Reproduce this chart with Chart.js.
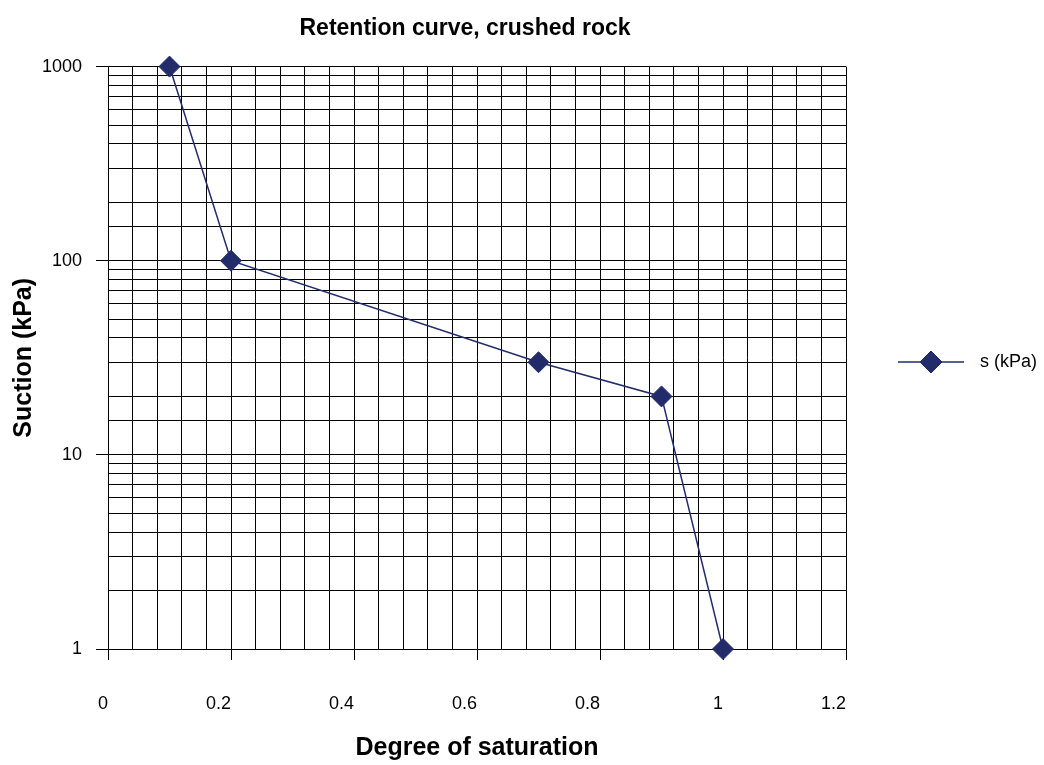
<!DOCTYPE html>
<html>
<head>
<meta charset="utf-8">
<title>Retention curve, crushed rock</title>
<script src="https://cdn.jsdelivr.net/npm/chart.js@4/dist/chart.umd.min.js"></script>
<style>
    body { margin: 0; background: #fff; }
    #wrap { width: 1044px; height: 765px; position: relative; }
</style>
</head>
<body>
<div id="wrap"><canvas id="retention"></canvas></div>
<script>
// degree of saturation vs suction
var saturation = [0.1, 0.2, 0.7, 0.9, 1.0];
var suction = [1000, 100, 30, 20, 1];

var xTickLabels = [0, 0.2, 0.4, 0.6, 0.8, 1, 1.2];
var yTickLabels = [1, 10, 100, 1000];

var navy = '#222c6b';
var fontFamily = '"Liberation Sans", Arial, sans-serif';

function isLabelled(list, value) {
    return list.some(function (v) { return Math.abs(v - value) < 1e-6; });
}

// legend on the right: short line with the diamond marker and the series name
var sideLegend = {
    id: 'sideLegend',
    afterLayout: function (chart) {
        // centre the title over the plot plus part of the legend column
        if (chart.titleBlock) {
            chart.titleBlock.left = 0;
            chart.titleBlock.right = 930;
        }
    },
    afterDraw: function (chart) {
        var ds = chart.data.datasets[0];
        var ctx = chart.ctx;
        var cx = 931, cy = 362;
        ctx.save();
        ctx.strokeStyle = ds.borderColor;
        ctx.lineWidth = 1.5;
        ctx.beginPath();
        ctx.moveTo(898, cy);
        ctx.lineTo(964, cy);
        ctx.stroke();
        ctx.fillStyle = ds.pointBackgroundColor;
        ctx.strokeStyle = ds.pointBorderColor;
        ctx.lineWidth = 1;
        Chart.helpers.drawPoint(ctx, { pointStyle: 'rectRot', radius: 11, borderWidth: 1 }, cx, cy);
        ctx.fillStyle = '#000';
        ctx.font = '18px ' + fontFamily;
        ctx.textBaseline = 'middle';
        ctx.textAlign = 'left';
        ctx.fillText(ds.label, 980, cy);
        ctx.restore();
    }
};

new Chart(document.getElementById('retention'), {
    type: 'line',
    data: {
        datasets: [{
            label: 's (kPa)',
            data: saturation.map(function (s, i) { return { x: s, y: suction[i] }; }),
            borderColor: navy,
            borderWidth: 1.5,
            backgroundColor: navy,
            pointStyle: 'rectRot',
            pointRadius: 10.5,
            pointHoverRadius: 10.5,
            pointBackgroundColor: navy,
            pointBorderColor: navy,
            pointBorderWidth: 1,
            tension: 0,
            clip: false
        }]
    },
    options: {
        responsive: true,
        maintainAspectRatio: false,
        animation: false,
        events: [],
        layout: { padding: { left: 0, right: 198, top: 0, bottom: 0 } },
        plugins: {
            legend: { display: false },
            tooltip: { enabled: false },
            title: {
                display: true,
                text: 'Retention curve, crushed rock',
                color: '#000',
                font: { family: fontFamily, size: 23, weight: 'bold' },
                padding: { top: 15, bottom: 24 }
            }
        },
        scales: {
            x: {
                type: 'linear',
                min: 0,
                max: 1.2,
                afterFit: function (scale) { scale.height = 116; },
                border: { color: '#000', width: 1 },
                grid: {
                    color: '#000',
                    lineWidth: 1,
                    tickLength: 11,
                    tickColor: function (ctx) {
                        return ctx.tick && isLabelled(xTickLabels, ctx.tick.value) ? '#000' : 'rgba(0,0,0,0)';
                    }
                },
                ticks: {
                    stepSize: 0.04,
                    autoSkip: false,
                    maxRotation: 0,
                    align: 'end',
                    padding: 33,
                    color: '#000',
                    font: { family: fontFamily, size: 18 },
                    callback: function (value) {
                        return isLabelled(xTickLabels, value) ? String(Math.round(value * 10) / 10) : '';
                    }
                },
                title: {
                    display: true,
                    text: 'Degree of saturation',
                    color: '#000',
                    font: { family: fontFamily, size: 25, weight: 'bold' },
                    padding: { top: 2, bottom: 2 }
                }
            },
            y: {
                type: 'logarithmic',
                min: 1,
                max: 1000,
                afterFit: function (scale) { scale.width = 108; },
                border: { color: '#000', width: 1 },
                grid: {
                    color: '#000',
                    lineWidth: 1,
                    tickLength: 12,
                    tickColor: function (ctx) {
                        return ctx.tick && isLabelled(yTickLabels, ctx.tick.value) ? '#000' : 'rgba(0,0,0,0)';
                    }
                },
                ticks: {
                    autoSkip: false,
                    padding: 14,
                    color: '#000',
                    font: { family: fontFamily, size: 18 },
                    callback: function (value) {
                        return isLabelled(yTickLabels, value) ? String(value) : '';
                    }
                },
                title: {
                    display: true,
                    text: 'Suction (kPa)',
                    color: '#000',
                    font: { family: fontFamily, size: 25, weight: 'bold' },
                    padding: { top: 9, bottom: 9 }
                }
            }
        }
    },
    plugins: [sideLegend]
});
</script>
</body>
</html>
